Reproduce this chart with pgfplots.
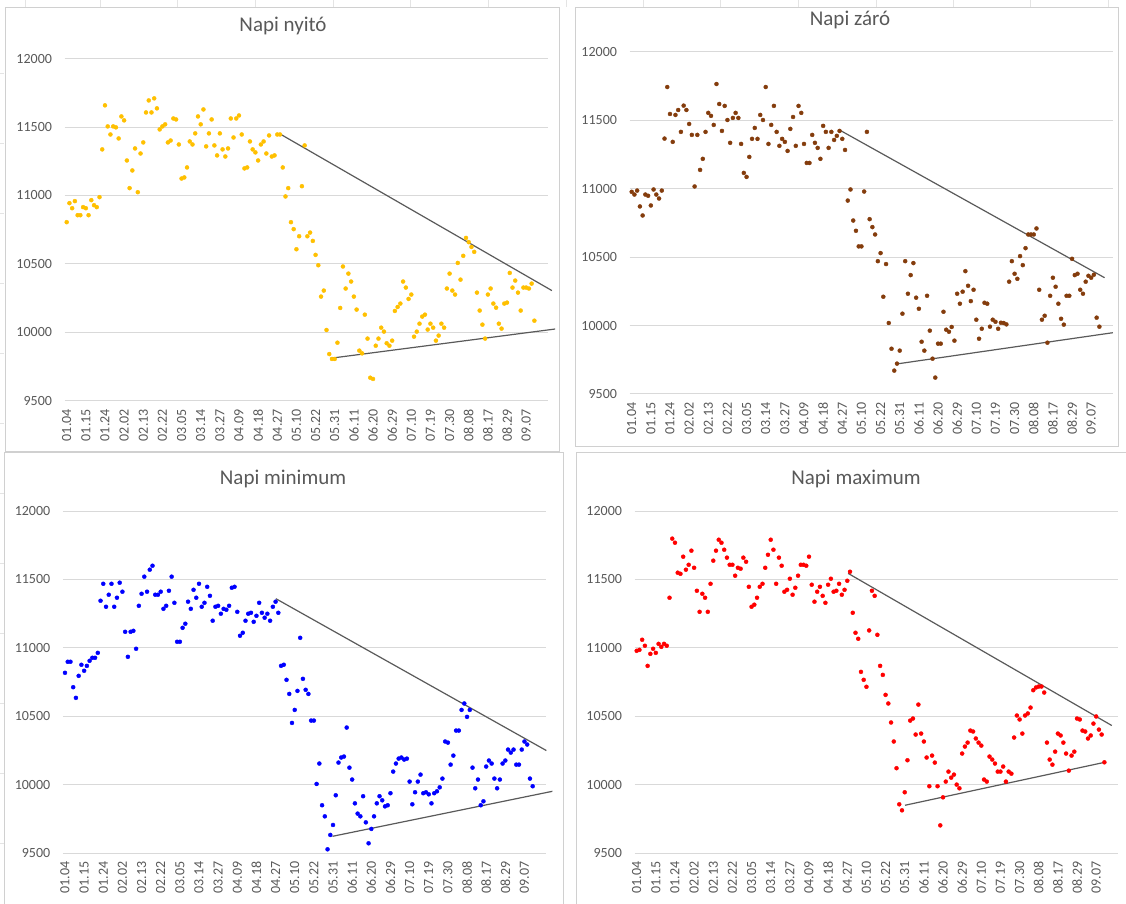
\documentclass[border=0pt]{standalone}
\usepackage{fontspec}
\setmainfont{Carlito}
\usepackage{pgfplots}
\pgfplotsset{compat=1.18}
\usepackage{pgfplotstable}

\definecolor{c1}{HTML}{FFC000}
\definecolor{c2}{HTML}{843C0C}
\definecolor{c3}{HTML}{0000FF}
\definecolor{c4}{HTML}{FF0000}
\definecolor{trendc}{HTML}{5A5A5A}
\definecolor{gridc}{HTML}{D9D9D9}
\definecolor{labc}{HTML}{595959}
\definecolor{framec}{HTML}{D0D0D0}
\definecolor{cellc}{HTML}{E4E4E4}

\pgfplotstableread{
i o c l h
0 10805 10978 10817 10978
1 10944 10958 10898 10985
2 10907 10987 10898 11059
3 10959 10871 10712 11015
4 10856 10805 10634 10868
5 10856 10958 10795 10956
6 10915 10949 10876 10993
7 10907 10878 10832 10963
8 10856 10995 10868 11029
9 10966 10958 10905 11007
10 10929 10929 10927 11029
11 10915 10987 10927 11015
12 10988 11367 10963 11366
13 11337 11744 11344 11798
14 11659 11547 11468 11768
15 11505 11343 11300 11549
16 11446 11540 11388 11541
17 11505 11576 11468 11666
18 11498 11416 11300 11571
19 11417 11608 11366 11607
20 11578 11576 11476 11710
21 11549 11474 11410 11585
22 11256 11394 11117 11417
23 11054 11017 10934 11263
24 11183 11394 11117 11395
25 11344 11138 11124 11366
26 11024 11219 10993 11263
27 11307 11416 11307 11468
28 11388 11555 11395 11637
29 11607 11533 11520 11710
30 11695 11467 11410 11790
31 11607 11766 11571 11768
32 11710 11620 11600 11717
33 11637 11423 11388 11659
34 11483 11606 11388 11607
35 11505 11503 11410 11607
36 11520 11336 11285 11527
37 11388 11518 11307 11585
38 11402 11555 11417 11578
39 11563 11518 11520 11659
40 11556 11328 11329 11629
41 11373 11116 11044 11446
42 11124 11087 11044 11300
43 11132 11233 11146 11315
44 11205 11365 11176 11366
45 11395 11445 11337 11446
46 11373 11365 11285 11468
47 11454 11540 11424 11585
48 11578 11503 11366 11680
49 11520 11744 11468 11790
50 11629 11328 11300 11717
51 11359 11467 11329 11468
52 11454 11606 11446 11659
53 11556 11416 11380 11600
54 11366 11314 11198 11410
55 11293 11365 11300 11424
56 11454 11343 11307 11505
57 11337 11277 11249 11388
58 11285 11438 11285 11439
59 11344 11525 11278 11527
60 11563 11314 11307 11607
61 11424 11606 11439 11607
62 11563 11555 11446 11600
63 11585 11328 11263 11666
64 11446 11189 11088 11461
65 11198 11189 11110 11337
66 11205 11394 11198 11410
67 11395 11336 11249 11446
68 11337 11299 11256 11380
69 11315 11219 11190 11329
70 11256 11460 11234 11461
71 11373 11416 11329 11505
72 11395 11299 11256 11410
73 11307 11416 11220 11417
74 11439 11357 11249 11468
75 11285 11387 11198 11388
76 11293 11423 11300 11424
77 11446 11365 11337 11490
78 11446 11284 11256 11556
79 11205 10914 10868 11256
80 10993 10995 10876 11110
81 11054 10768 10766 11066
82 10805 10693 10663 10824
83 10754 10579 10451 10766
84 10607 10579 10546 10715
85 10702 10980 10685 11127
86 11068 11416 11073 11417
87 11366 10778 10773 11380
88 10702 10720 10693 11095
89 10729 10666 10663 10868
90 10668 10471 10468 10802
91 10566 10530 10468 10656
92 10490 10211 10005 10593
93 10261 10450 10154 10454
94 10305 10019 9849 10315
95 10017 9831 9768 10120
96 9841 9671 9527 9856
97 9805 9722 9632 9812
98 9805 9817 9705 9944
99 9924 10087 9922 10178
100 10178 10471 10161 10468
101 10481 10233 10198 10483
102 10320 10369 10205 10366
103 10429 10457 10417 10585
104 10371 10204 10124 10373
105 10261 10123 10037 10315
106 10166 9882 9863 10198
107 9866 9817 9788 9988
108 9846 10218 9768 10212
109 10129 9963 9915 10161
110 9954 9758 9724 9988
111 9668 9620 9571 9702
112 9659 9868 9676 9907
113 9902 9868 9768 10022
114 9954 10101 9863 10095
115 10034 9970 9915 10051
116 10005 9955 9885 10073
117 9920 9990 9841 10000
118 9902 9890 9849 9973
119 9939 10233 9937 10227
120 10156 10160 10095 10278
121 10185 10248 10154 10307
122 10210 10398 10190 10395
123 10371 10291 10198 10388
124 10327 10179 10183 10337
125 10244 10262 10190 10307
126 10276 10043 10022 10285
127 9968 9904 9856 10037
128 10005 9977 9944 10022
129 10063 10167 10022 10205
130 10115 10160 10073 10183
131 10129 9992 9937 10154
132 10020 10043 9944 10095
133 10063 10028 9929 10095
134 10034 9977 9863 10132
135 9939 10021 9937 10022
136 9976 10019 9951 10095
137 10063 10009 9980 10080
138 10034 10321 10044 10344
139 10320 10471 10315 10505
140 10429 10379 10307 10476
141 10305 10342 10146 10373
142 10276 10508 10212 10505
143 10507 10442 10395 10520
144 10385 10566 10395 10563
145 10559 10666 10546 10690
146 10690 10666 10593 10710
147 10659 10666 10495 10717
148 10624 10710 10546 10717
149 10588 10262 10124 10673
150 10290 10043 9973 10307
151 10159 10072 10037 10183
152 10056 9875 9849 10146
153 9954 10218 9878 10241
154 10276 10350 10132 10373
155 10320 10284 10176 10359
156 10210 10160 10154 10307
157 10180 10050 10044 10227
158 10063 10007 9973 10102
159 10027 10218 10037 10212
160 10210 10218 10154 10241
161 10217 10488 10176 10483
162 10434 10369 10256 10476
163 10327 10379 10234 10395
164 10378 10262 10256 10388
165 10290 10233 10146 10337
166 10159 10321 10146 10359
167 10327 10364 10256 10446
168 10327 10350 10315 10498
169 10320 10372 10293 10402
170 10356 10058 10044 10366
171 10085 9992 9988 10163
}\data

\pgfplotsset{
  panel/.style={
    scale only axis, width=483pt, height=342pt,
    anchor=south west,
    xmin=-0.8, xmax=175.8, ymin=9500, ymax=12000,
    ytick={9500,10000,...,12000},
    scaled y ticks=false,
    xtick={0,7,...,168},
    xticklabels={01.04,01.15,01.24,02.02,02.13,02.22,03.05,03.14,03.27,04.09,04.18,04.27,05.10,05.22,05.31,06.11,06.20,06.29,07.10,07.19,07.30,08.08,08.17,08.29,09.07},
    axis line style={draw=none},
    ymajorgrids,
    major grid style={draw=gridc, line width=1pt},
    tick style={draw=none},
    /pgf/number format/assume math mode=true,
    /pgf/number format/1000 sep={},
    yticklabel style={font=\fontsize{14}{15}\selectfont, text=labc, anchor=east, xshift=-9pt},
    xticklabel style={font=\fontsize{14}{15}\selectfont, text=labc, yshift=-5pt, rotate=90, anchor=east},
    clip=false,
  },
  dots/.style={only marks, mark=*, mark size=2pt, color=#1, mark options={draw=#1, fill=#1}},
  trend/.style={no marks, color=trendc, line width=1.2pt},
}

\begin{document}
\begin{tikzpicture}
\path[use as bounding box, fill=white] (0pt,0pt) rectangle (1126pt,903pt);
% faint spreadsheet cell lines in the margins
\foreach \xx in {25,100,177,255,333,410,488,566,643,720,798,876,953,1030,1108}
  \draw[cellc, line width=0.8pt] (\xx pt,903pt) -- (\xx pt,896pt);
\foreach \yy in {830,760,690,620,550,480,410,340,270,200,130,60}
  \draw[cellc, line width=0.8pt] (0pt,\yy pt) -- (4pt,\yy pt);
\draw[framec, line width=1pt] (5pt,895pt) rectangle (559pt,451pt);
\draw[framec, line width=1pt] (575pt,895pt) rectangle (1118pt,456pt);
\draw[framec, line width=1pt] (4pt,450pt) rectangle (563pt,-3pt);
\draw[framec, line width=1pt] (576pt,450pt) rectangle (1130pt,-3pt);

% Napi nyito
\begin{axis}[panel, at={(64.5pt,502.3pt)}]
\addplot[dots=c1] table[x=i, y=o] {\data};
\addplot[trend] coordinates {(78,11450) (177.4,10305)};
\addplot[trend] coordinates {(96.4,9810) (178.6,10024)};
\end{axis}
\node[font=\fontsize{21}{22}\selectfont, text=labc] at (283pt,877pt) {Napi nyitó};

% Napi zaro
\begin{axis}[panel, at={(629.5pt,509pt)}]
\addplot[dots=c2] table[x=i, y=c] {\data};
\addplot[trend] coordinates {(75.7,11433) (172.9,10350)};
\addplot[trend] coordinates {(96.7,9719) (175.9,9948)};
\end{axis}
\node[font=\fontsize{21}{22}\selectfont, text=labc] at (850pt,883pt) {Napi záró};

% Napi minimum
\begin{axis}[panel, at={(62.8pt,50pt)}]
\addplot[dots=c3] table[x=i, y=l] {\data};
\addplot[trend] coordinates {(77.1,11359) (176,10249)};
\addplot[trend] coordinates {(97.8,9622) (178.2,9951)};
\end{axis}
\node[font=\fontsize{21}{22}\selectfont, text=labc] at (283pt,424pt) {Napi minimum};

% Napi maximum
\begin{axis}[panel, at={(634.5pt,50pt)}]
\addplot[dots=c4] table[x=i, y=h] {\data};
\addplot[trend] coordinates {(77.3,11544) (173.7,10432)};
\addplot[trend] coordinates {(98.1,9849) (171.1,10163)};
\end{axis}
\node[font=\fontsize{21}{22}\selectfont, text=labc] at (856pt,424pt) {Napi maximum};
\end{tikzpicture}
\end{document}
